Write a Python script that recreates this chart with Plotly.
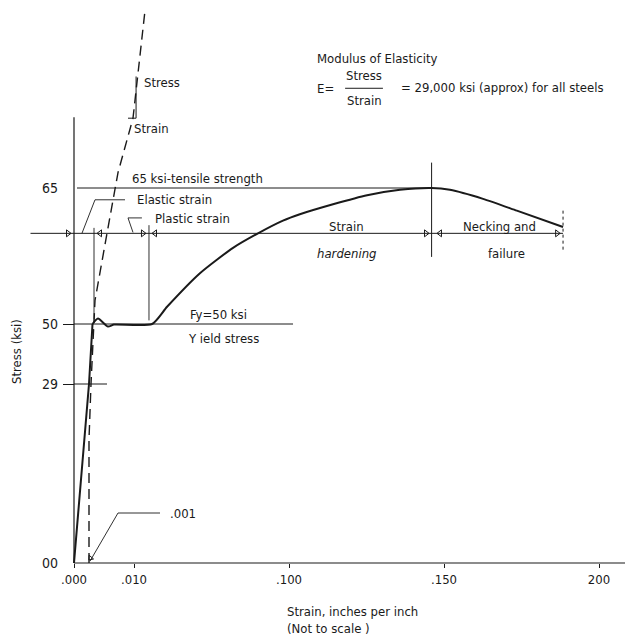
import numpy as np
import plotly.graph_objects as go

# ---------------- data (strain in in/in, stress in ksi) ----------------
STRAIN_TICKS = [0.000, 0.010, 0.100, 0.150, 0.200]
STRAIN_TICK_TEXT = [".000", ".010", ".100", ".150", "200"]
STRESS_TICKS = [0, 29, 50, 65]
STRESS_TICK_TEXT = ["00", "29", "50", "65"]

# actual stress-strain curve
ELASTIC_STRAIN = [0.0, 0.001, 0.0017]
ELASTIC_STRESS = [0.0, 29.0, 50.0]
CURVE_STRAIN = [0.0017, 0.0028, 0.0048, 0.0060, 0.0205, 0.0292, 0.0483, 0.0675,
                0.0820, 0.0965, 0.1035, 0.1142, 0.1252, 0.1358, 0.1460, 0.1519,
                0.1626, 0.1735, 0.1884]
CURVE_STRESS = [50.0, 50.6, 49.1, 49.8, 50.0, 51.9, 55.6, 58.4,
                60.0, 61.4, 62.1, 63.2, 64.2, 64.8, 65.0, 64.8,
                63.8, 62.5, 60.7]

# modulus (dashed) line
DASH_STRAIN = [0.001, 0.001, 0.0014, 0.0022, 0.0046, 0.0068, 0.0098, 0.0164]
DASH_STRESS = [0.0, 20.0, 29.0, 52.6, 60.0, 66.7, 72.7, 84.6]

FY = 50.0           # yield stress
FU = 65.0           # tensile strength
FY_LINE_END = 0.1013
F29_LINE_END = 0.0046
DIM_STRESS = 60.0   # level of dimension line
DIM_START, DIM_END = -0.0029, 0.1884
STRAIN_YIELD = 0.002
STRAIN_HARDEN = 0.0187
STRAIN_ULT = 0.146
STRAIN_FAIL = 0.1884
AXIS_TOP = 72.8
AXIS_RIGHT = 0.211

# ---------------- schematic (not to scale) axes ----------------
X_KNOT_STRAIN = [0.0, 0.001, 0.010, 0.100, 0.150, 0.200]
X_KNOT_POS = [0, 15, 60, 215, 370, 525]
Y_KNOT_STRESS = [0.0, 29.0, 50.0, 65.0]
Y_KNOT_POS = [0, 179, 239, 375]


def piecewise(v, kv, kp):
    v = np.atleast_1d(np.asarray(v, float))
    out = np.interp(v, kv, kp)
    lo = v < kv[0]
    out[lo] = kp[0] + (v[lo] - kv[0]) * (kp[1] - kp[0]) / (kv[1] - kv[0])
    hi = v > kv[-1]
    out[hi] = kp[-1] + (v[hi] - kv[-1]) * (kp[-1] - kp[-2]) / (kv[-1] - kv[-2])
    return out


def sx(v):
    return piecewise(v, X_KNOT_STRAIN, X_KNOT_POS)


def sy(v):
    return piecewise(v, Y_KNOT_STRESS, Y_KNOT_POS)


FONT = "DejaVu Sans Condensed, Liberation Sans Narrow, Arial Narrow, sans-serif"
INK = "#1a1a1a"
PAGE_W, PAGE_H, BODY_MARGIN = 633, 642, 8
W, H = PAGE_W - BODY_MARGIN, PAGE_H - BODY_MARGIN
AXIS_X_PAGE, AXIS_Y_PAGE = 74, 563          # where the axes cross on the page
X0 = AXIS_X_PAGE - BODY_MARGIN               # figure px of strain 0
Y0 = AXIS_Y_PAGE - BODY_MARGIN               # figure px of stress 0

fig = go.Figure()


def line(xs, ys, width=1.0, dash="solid", color=INK, shape="linear", yaxis="y", smoothing=None):
    kw = dict(shape=shape, width=width, dash=dash, color=color)
    if smoothing is not None:
        kw["smoothing"] = smoothing
    fig.add_trace(go.Scatter(x=sx(xs), y=sy(ys), mode="lines", line=kw,
                             hoverinfo="skip", showlegend=False, yaxis=yaxis))


# axes lines
line([0, AXIS_RIGHT], [0, 0], 1.2)
line([0, 0], [0, AXIS_TOP], 1.2)

# reference lines
line([0.0002, STRAIN_ULT], [FU, FU], 1.0)
line([0, FY_LINE_END], [FY, FY], 1.0)
line([0, F29_LINE_END], [29, 29], 1.0, yaxis="y2")
line([DIM_START, DIM_END], [DIM_STRESS, DIM_STRESS], 1.0)

# extension lines
line([STRAIN_YIELD, STRAIN_YIELD], [50.5, 60.6], 0.9)
line([STRAIN_HARDEN, STRAIN_HARDEN], [50.4, 60.9], 0.9)
line([STRAIN_ULT, STRAIN_ULT], [57.4, 67.8], 1.0)
line([STRAIN_FAIL, STRAIN_FAIL], [58.2, 62.6], 1.0, dash="dot")

# dashed modulus line
line(DASH_STRAIN, DASH_STRESS, 1.4, dash="10px,6px")
# slope bracket
line([0.0112, 0.0112, 0.0088], [77.3, 72.7, 72.7], 1.0)

# the stress-strain curve
line(ELASTIC_STRAIN, ELASTIC_STRESS, 2.0)
line(CURVE_STRAIN, CURVE_STRESS, 2.0, shape="spline", smoothing=0.6)

# leaders
line([0.00053, 0.0022, 0.0082], [60.0, 63.7, 63.7], 0.9)
line([0.0146, 0.0088, 0.0098], [61.7, 61.7, 60.1], 0.9)
line([0.0012, 0.0068, 0.0251], [0.3, 8.1, 8.1], 0.9)
# fraction bar in E formula
line([0.1181, 0.1303], [76.0, 76.0], 1.0)

# dimension arrowheads
ARROW_R = [-0.0004, 0.0152, 0.1442, 0.1865]
ARROW_L = [0.0032, 0.0222, 0.1487]
fig.add_trace(go.Scatter(x=sx(ARROW_R), y=sy([DIM_STRESS] * len(ARROW_R)), mode="markers",
                         marker=dict(symbol="triangle-right-open", size=6, color=INK, line=dict(width=1)),
                         hoverinfo="skip", showlegend=False))
fig.add_trace(go.Scatter(x=sx(ARROW_L), y=sy([DIM_STRESS] * len(ARROW_L)), mode="markers",
                         marker=dict(symbol="triangle-left-open", size=6, color=INK, line=dict(width=1)),
                         hoverinfo="skip", showlegend=False))
fig.add_trace(go.Scatter(x=sx([0.0013]), y=sy([0.8]), mode="markers",
                         marker=dict(symbol="triangle-down-open", size=5, angle=40, color=INK, line=dict(width=1)),
                         hoverinfo="skip", showlegend=False))

# text labels
LABELS = [
    ("Modulus of Elasticity", 0.1084, 79.3, "left"),
    ("E=", 0.1084, 76.0, "left"),
    ("Stress", 0.1242, 77.4, "center"),
    ("Strain", 0.1242, 74.7, "center"),
    ("= 29,000 ksi (approx) for all steels", 0.1355, 76.1, "left"),
    ("Stress", 0.0146, 76.6, "left"),
    ("Strain", 0.0096, 71.6, "left"),
    ("65 ksi-tensile strength", 0.0092, 66.1, "left"),
    ("Elastic strain", 0.0106, 63.7, "left"),
    ("Plastic strain", 0.0210, 61.6, "left"),
    ("Strain", 0.1187, 60.7, "center"),
    ("<i>hardening</i>", 0.1187, 57.8, "center"),
    ("Necking and", 0.1680, 60.7, "center"),
    ("failure", 0.1700, 57.8, "center"),
    ("Fy=50 ksi", 0.0414, 51.1, "left"),
    ("Y ield stress", 0.0402, 45.1, "left"),
    (".001", 0.0297, 8.1, "left"),
]
for txt, xs_, ys_, anc in LABELS:
    fig.add_annotation(x=float(sx(xs_)[0]), y=float(sy(ys_)[0]), text=txt, showarrow=False,
                       xanchor=anc, yanchor="middle",
                       font=dict(family=FONT, size=13, color=INK))

# axis titles (placed as in the drawing)
fig.add_annotation(x=(285 - BODY_MARGIN) / W, y=1 - (620 - BODY_MARGIN) / H, xref="paper", yref="paper",
                   text="Strain, inches per inch<br>(Not to scale )", showarrow=False,
                   xanchor="left", yanchor="middle", align="left",
                   font=dict(family=FONT, size=13, color=INK))
fig.add_annotation(x=(16 - BODY_MARGIN) / W, y=1 - (352 - BODY_MARGIN) / H, xref="paper", yref="paper",
                   text="Stress (ksi)", showarrow=False, textangle=-90,
                   xanchor="center", yanchor="middle",
                   font=dict(family=FONT, size=13, color=INK))

fig.update_layout(
    width=W, height=H,
    margin=dict(l=0, r=0, t=0, b=0),
    paper_bgcolor="white", plot_bgcolor="white",
    showlegend=False,
    font=dict(family=FONT, size=13, color=INK),
    xaxis=dict(range=[-X0, W - X0], anchor="free", position=(H - Y0) / H, automargin=False,
               showgrid=False, zeroline=False, showline=False,
               tickmode="array", tickvals=sx(STRAIN_TICKS), ticktext=STRAIN_TICK_TEXT,
               ticks="outside", ticklen=4, tickcolor=INK, tickfont=dict(family=FONT, size=13, color=INK)),
    yaxis=dict(range=[Y0 - H, Y0], anchor="free", position=X0 / W, automargin=False,
               showgrid=False, zeroline=False, showline=False,
               tickmode="array", tickvals=sy(STRESS_TICKS), ticktext=STRESS_TICK_TEXT,
               ticks="", ticklabelstandoff=16, tickfont=dict(family=FONT, size=14, color=INK)),
    yaxis2=dict(range=[Y0 - H, Y0], overlaying="y", anchor="free", position=X0 / W, automargin=False,
                showgrid=False, zeroline=False, showline=False, showticklabels=False,
                tickmode="array", tickvals=sy([29, 50]), ticks="outside", ticklen=11,
                tickcolor=INK, tickwidth=1),
)

fig.write_html("out.html")
